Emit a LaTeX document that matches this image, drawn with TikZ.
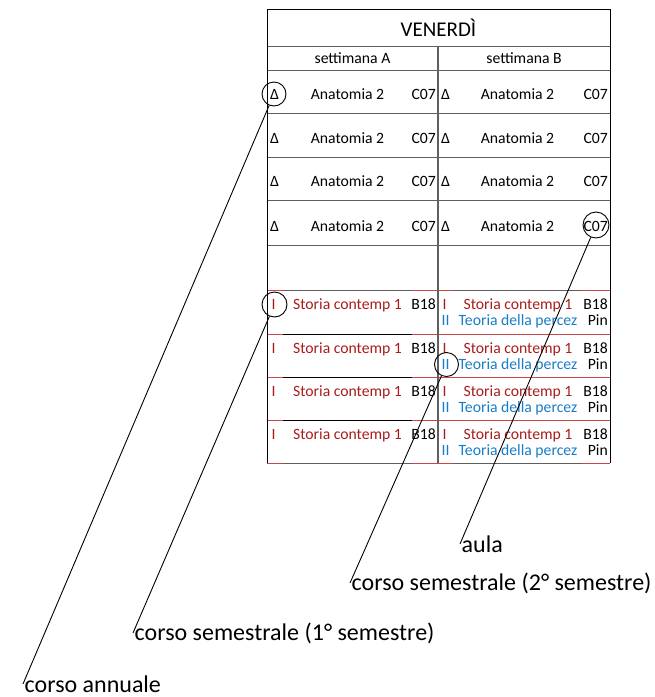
\documentclass[tikz,border=0pt]{standalone}
\usepackage{fontspec}
\setmainfont{Carlito}
\usetikzlibrary{positioning}
\definecolor{cellred}{RGB}{168,28,28}
\definecolor{cellblue}{RGB}{24,124,200}
\definecolor{gridgray}{RGB}{95,95,95}
\definecolor{gridred}{RGB}{205,70,70}
\tikzstyle{celltext} = [inner sep=0pt, font=\fontsize{15.7}{17}\selectfont]
\tikzstyle{headtext} = [inner sep=0pt, font=\fontsize{21}{24}\selectfont]
\tikzstyle{ring} = [circle, draw=black, line width=0.9pt, minimum size=24pt, inner sep=0pt]
\tikzstyle{legend} = [anchor=west, inner sep=1.5pt, font=\fontsize{24}{26}\selectfont]
\tikzstyle{leader} = [black, line width=0.9pt]
\tikzstyle{grid} = [gridgray, line width=0.9pt]

\begin{document}
\begin{tikzpicture}[x=1pt, y=-1pt]
 \useasboundingbox (0,0) rectangle (655,697);

 % grid of the timetable
 \foreach \y in {46,70,113,157,200,245}
  \draw [grid] (267,\y) -- (610,\y);
 \foreach \y in {290,463} {
  \draw [grid] (267,\y) -- (610,\y);
  \draw [gridred, line width=0.9pt] (267,\y) -- (283,\y) (412,\y) -- (453,\y) (582,\y) -- (610,\y);
 }
 \foreach \y in {334,377,420} {
  \draw [black, line width=0.9pt] (267,\y) -- (438,\y);
  \draw [gridred, line width=0.9pt] (267,\y) -- (283,\y) (412,\y) -- (610,\y);
 }
 \draw [gridgray, line width=2pt] (438,46) -- (438,463);
 \draw [black, line width=0.9pt] (267,463) -- (267,9) -- (610,9) -- (610,463);

 % headers
 \node (day) [headtext] at (438.5,28) {VENERDÌ};
 \node (weekA) [celltext, anchor=base] at (352.5,63) {settimana A};
 \node (weekB) [celltext, anchor=base] at (524,63) {settimana B};

 % morning rows
 \foreach \r/\b in {1/99,2/143,3/186,4/231} {
  \node (dA\r) [celltext, anchor=base west] at (270,\b) {Δ};
  \node (nA\r) [celltext, anchor=base] at (347.5,\b) {Anatomia 2};
  \node (cA\r) [celltext, anchor=base east] at (436,\b) {C07};
  \node (dB\r) [celltext, anchor=base west] at (441,\b) {Δ};
  \node (nB\r) [celltext, anchor=base] at (517.5,\b) {Anatomia 2};
  \node (cB\r) [celltext, anchor=base east] at (608,\b) {C07};
 }

 % afternoon rows
 \foreach \r/\t in {1/290,2/334,3/377,4/420} {
  \node (sA\r) [celltext, text=cellred, anchor=base west] at (271.5,\t+19) {I};
  \node (tA\r) [celltext, text=cellred, anchor=base] at (347.5,\t+19) {Storia contemp 1};
  \node (bA\r) [celltext, anchor=base east] at (436,\t+19) {B18};
  \node (sB\r) [celltext, text=cellred, anchor=base west] at (442.5,\t+19) {I};
  \node (tB\r) [celltext, text=cellred, anchor=base] at (518,\t+19) {Storia contemp 1};
  \node (bB\r) [celltext, anchor=base east] at (608,\t+19) {B18};
  \node (uB\r) [celltext, text=cellblue, anchor=base west] at (441.5,\t+35) {II};
  \node (vB\r) [celltext, text=cellblue, anchor=base] at (518,\t+35) {Teoria della percez};
  \node (pB\r) [celltext, anchor=base east] at (608,\t+35) {Pin};
 }

 % callouts
 \node (ringYear) [ring] at (274,94) {};
 \node (ringRoom) [ring, minimum size=26pt] at (596,225) {};
 \node (ringFirst) [ring, minimum size=25pt] at (274.5,304.5) {};
 \node (ringSecond) [ring] at (446.5,364.5) {};

 \node (aula) [legend] at (460,544) {aula};
 \node (secondSem) [legend] at (350,583) {corso semestrale (2° semestre)};
 \node (firstSem) [legend] at (133,633) {corso semestrale (1° semestre)};
 \node (annual) [legend] at (23,684) {corso annuale};

 \draw [leader] (ringRoom) -- (aula.west);
 \draw [leader] (ringSecond) -- (secondSem.west);
 \draw [leader] (ringFirst) -- (firstSem.west);
 \draw [leader] (ringYear) -- (annual.west);
\end{tikzpicture}
\end{document}
